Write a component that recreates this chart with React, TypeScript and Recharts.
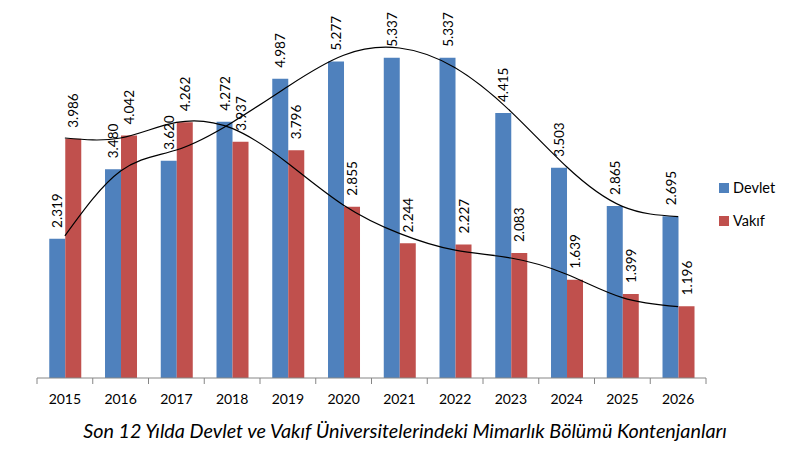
import React from 'react';
import { ComposedChart, Bar, Line, XAxis, YAxis, Legend, LabelList } from 'recharts';

const years = ['2015', '2016', '2017', '2018', '2019', '2020', '2021', '2022', '2023', '2024', '2025', '2026'];
const devlet = [2.319, 3.48, 3.62, 4.272, 4.987, 5.277, 5.337, 5.337, 4.415, 3.503, 2.865, 2.695];
const vakif = [3.986, 4.042, 4.262, 3.937, 3.796, 2.855, 2.244, 2.227, 2.083, 1.639, 1.399, 1.196];
const devletTrend = [2.37, 3.45, 3.8, 4.26, 4.86, 5.38, 5.5, 5.17, 4.44, 3.52, 2.86, 2.69];
const vakifTrend = [4.0, 4.0, 4.26, 4.16, 3.58, 2.88, 2.41, 2.13, 2.0, 1.73, 1.34, 1.19];

const seriesNames = { devlet: 'Devlet', vakif: 'Vakıf' };
const title = 'Son 12 Yılda Devlet ve Vakıf Üniversitelerindeki Mimarlık Bölümü Kontenjanları';

const data = years.map((y, i) => ({
  year: y,
  devlet: devlet[i],
  vakif: vakif[i],
  devletTrend: devletTrend[i],
  vakifTrend: vakifTrend[i],
}));

const FONT = "Lato, 'Open Sans', sans-serif";
const BLUE = '#4F81BD';
const RED = '#C0504D';

const renderLabel = (props: any) => {
  const { x, y, width, value } = props;
  const cx = Number(x) + Number(width) / 2;
  const ty = Number(y) - 11;
  return (
    <text
      x={cx}
      y={ty}
      transform={`rotate(-90, ${cx}, ${ty})`}
      textAnchor="start"
      dominantBaseline="central"
      fontFamily={FONT}
      fontSize={13.5}
      fill="#000"
    >
      {Number(value).toFixed(3)}
    </text>
  );
};

const YearTick = (props: any) => {
  const { x, y, payload, index, visibleTicksCount } = props;
  const half = payload && payload.offset ? payload.offset : 0;
  const isLast = index === visibleTicksCount - 1;
  return (
    <g>
      <line x1={x - half} y1={y - 8} x2={x - half} y2={y - 2} stroke="#868686" strokeWidth={1} />
      {isLast && <line x1={x + half} y1={y - 8} x2={x + half} y2={y - 2} stroke="#868686" strokeWidth={1} />}
      <text x={x} y={y + 18} textAnchor="middle" fontFamily={FONT} fontSize={14} fill="#000">
        {payload.value}
      </text>
    </g>
  );
};

const renderLegend = (props: any) => {
  const items = (props.payload || []).filter((p: any) => p.type !== 'none');
  return (
    <div style={{ fontFamily: FONT, fontSize: 14.5, color: '#000' }}>
      {items.map((p: any) => (
        <div key={p.value} style={{ display: 'flex', alignItems: 'center', height: 33 }}>
          <span style={{ display: 'inline-block', width: 10, height: 10, background: p.color, marginRight: 4 }} />
          <span>{p.value}</span>
        </div>
      ))}
    </div>
  );
};

export default function App() {
  return (
    <div style={{ position: 'absolute', left: 0, top: 0, width: 787, height: 454, background: '#fff' }}>
      <ComposedChart
        width={787}
        height={454}
        data={data}
        margin={{ top: 18, right: 81, bottom: 46, left: 37 }}
        barGap={0}
        barCategoryGap="22%"
      >
        <XAxis
          dataKey="year"
          height={30}
          axisLine={{ stroke: '#868686' }}
          tickLine={false}
          tick={<YearTick />}
          interval={0}
        />
        <YAxis hide domain={[0, 6]} />
        <Legend
          layout="horizontal"
          verticalAlign="middle"
          align="center"
          content={renderLegend}
          wrapperStyle={{ position: 'absolute', left: 719, top: 171, width: 70 }}
        />
        <Bar dataKey="devlet" name={seriesNames.devlet} fill={BLUE} isAnimationActive={false}>
          <LabelList dataKey="devlet" content={renderLabel} />
        </Bar>
        <Bar dataKey="vakif" name={seriesNames.vakif} fill={RED} isAnimationActive={false}>
          <LabelList dataKey="vakif" content={renderLabel} />
        </Bar>
        <Line
          dataKey="devletTrend"
          type="natural"
          stroke="#000"
          strokeWidth={1.2}
          dot={false}
          activeDot={false}
          legendType="none"
          isAnimationActive={false}
        />
        <Line
          dataKey="vakifTrend"
          type="natural"
          stroke="#000"
          strokeWidth={1.2}
          dot={false}
          activeDot={false}
          legendType="none"
          isAnimationActive={false}
        />
      </ComposedChart>
      <div
        style={{
          position: 'absolute',
          left: 405,
          top: 420,
          transform: 'translateX(-50%)',
          whiteSpace: 'nowrap',
          fontFamily: FONT,
          fontStyle: 'italic',
          fontSize: 19.8,
          lineHeight: '20px',
          color: '#000',
        }}
      >
        {title}
      </div>
    </div>
  );
}
